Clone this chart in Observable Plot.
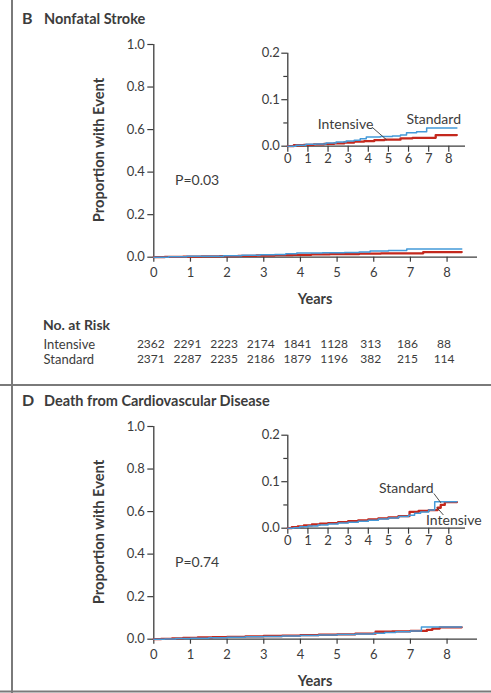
<!DOCTYPE html>
<html>
<head>
<meta charset="utf-8">
<script src="https://cdn.jsdelivr.net/npm/d3@7"></script>
<script src="https://cdn.jsdelivr.net/npm/@observablehq/plot@0.6"></script>
<style>
  body { margin: 0; background: #fff; }
  #fig { position: relative; width: 491px; height: 693px; overflow: hidden; background: #fff; }
  #fig svg { position: absolute; left: 0; }
</style>
</head>
<body>
<div id="fig"></div>
<script>
// ---- data ---------------------------------------------------------------
const years = [0, 1, 2, 3, 4, 5, 6, 7, 8];
const mainTicks = [0, 0.2, 0.4, 0.6, 0.8, 1.0];
const insetTicks = [0, 0.1, 0.2];
const insetMinorTicks = [0.05, 0.15];

const riskGroups = ["Intensive", "Standard"];
const riskIntensive = [2362, 2291, 2223, 2174, 1841, 1128, 313, 186, 88];
const riskStandard  = [2371, 2287, 2235, 2186, 1879, 1196, 382, 215, 114];

// Nonfatal stroke, cumulative proportion (Kaplan-Meier steps)
const strokeIntensiveT = [0, 0.3, 0.8, 1.3, 1.8, 2.3, 2.8, 3.3, 3.8, 4.3, 4.8, 5.6, 6.2, 7.35, 8.4];
const strokeIntensiveP = [0, 0.002, 0.003, 0.004, 0.005, 0.006, 0.008, 0.010, 0.011, 0.013, 0.014, 0.017, 0.018, 0.024, 0.024];
const strokeStandardT  = [0, 0.4, 0.9, 1.4, 1.9, 2.4, 2.9, 3.3, 3.6, 3.9, 4.6, 5.2, 5.6, 5.9, 6.4, 6.9, 8.4];
const strokeStandardP  = [0, 0.002, 0.004, 0.005, 0.007, 0.009, 0.011, 0.013, 0.016, 0.020, 0.021, 0.022, 0.024, 0.029, 0.031, 0.039, 0.039];

// Death from cardiovascular disease
const cvdIntensiveT = [0, 0.2, 0.5, 0.8, 1.2, 1.6, 2.0, 2.5, 3.0, 3.5, 4.0, 4.5, 5.0, 5.5, 6.05, 6.5, 7.0, 7.45, 7.6, 7.8, 8.4];
const cvdIntensiveP = [0, 0.002, 0.004, 0.006, 0.008, 0.010, 0.011, 0.013, 0.015, 0.017, 0.019, 0.021, 0.023, 0.026, 0.035, 0.037, 0.039, 0.044, 0.050, 0.056, 0.056];
const cvdStandardT  = [0, 0.3, 0.6, 1.0, 1.5, 2.0, 2.5, 3.0, 3.5, 4.0, 4.5, 5.0, 5.5, 6.0, 6.3, 6.6, 7.0, 7.3, 8.4];
const cvdStandardP  = [0, 0.001, 0.003, 0.005, 0.007, 0.009, 0.011, 0.013, 0.015, 0.017, 0.020, 0.022, 0.025, 0.028, 0.032, 0.035, 0.039, 0.057, 0.057];

// ---- styling --------------------------------------------------------------
const W = 491;
const xMax = 8.83;
const ink = "#3c3c3c";
const blue = "#449ad9";
const red = "#c4281d";
const font = "Lato, 'Open Sans', sans-serif";
const tickFont = 13;
const fig = document.getElementById("fig");

const toRows = (t, p) => t.map((d, i) => ({t: d, p: p[i]}));

function curveMarks(intT, intP, stdT, stdP) {
  return [
    Plot.line(toRows(intT, intP), {x: "t", y: "p", curve: "step-after", stroke: red, strokeWidth: 2.3}),
    Plot.line(toRows(stdT, stdP), {x: "t", y: "p", curve: "step-after", stroke: blue, strokeWidth: 1.5})
  ];
}

function place(svg, top) {
  svg.style.top = top + "px";
  fig.appendChild(svg);
}

function mainPanel(top, curves) {
  const h = 280;
  const chart = Plot.plot({
    width: W, height: h,
    marginLeft: 153.3, marginRight: W - 477, marginTop: 44, marginBottom: h - 256.7,
    x: {domain: [0, xMax]},
    y: {domain: [0, 1]},
    style: {fontFamily: font, fontSize: tickFont + "px", color: ink, background: "transparent", overflow: "visible"},
    marks: [
      Plot.ruleY([0], {stroke: ink, strokeWidth: 1.3}),
      Plot.ruleX([0], {stroke: ink, strokeWidth: 1.3}),
      Plot.axisY({ticks: mainTicks, tickFormat: d3.format(".1f"), tickSize: 6, tickPadding: 3, label: null, strokeWidth: 1.2}),
      Plot.axisX({ticks: years, tickFormat: d3.format("d"), tickSize: 5, tickPadding: 6, label: null, strokeWidth: 1.2}),
      ...curves
    ]
  });
  place(chart, top);
}

function insetPanel(top, curves, notes, leaders) {
  const h = 165;
  const chart = Plot.plot({
    width: W, height: h,
    marginLeft: 287.3, marginRight: W - 465, marginTop: 52.7, marginBottom: h - 145.7,
    x: {domain: [0, xMax]},
    y: {domain: [0, 0.2]},
    style: {fontFamily: font, fontSize: tickFont + "px", color: ink, background: "transparent", overflow: "visible"},
    marks: [
      Plot.ruleY([0], {stroke: ink, strokeWidth: 1.3}),
      Plot.ruleX([0], {stroke: ink, strokeWidth: 1.3}),
      Plot.axisY({ticks: insetTicks, tickFormat: d3.format(".1f"), tickSize: 6, tickPadding: 2, label: null, strokeWidth: 1.2}),
      Plot.axisY({ticks: insetMinorTicks, tickFormat: () => "", tickSize: 4, label: null, strokeWidth: 1.2}),
      Plot.axisX({ticks: years, tickFormat: d3.format("d"), tickSize: 6, tickPadding: 1.5, label: null, strokeWidth: 1.2}),
      ...curves,
      Plot.line(leaders, {x: "t", y: "p", z: "id", stroke: ink, strokeWidth: 0.9}),
      Plot.text(notes, {x: "t", y: "p", text: "label", fill: ink, fontSize: 14})
    ]
  });
  place(chart, top);
}

function riskTable(top) {
  const h = 50;
  const rows = [];
  years.forEach((y, i) => {
    rows.push({year: y, group: riskGroups[0], n: riskIntensive[i]});
    rows.push({year: y, group: riskGroups[1], n: riskStandard[i]});
  });
  const chart = Plot.plot({
    width: W, height: h,
    marginLeft: 153.3, marginRight: W - 477, marginTop: 23.5, marginBottom: h - 39.3,
    x: {domain: [0, xMax], axis: null},
    y: {domain: riskGroups, type: "point", padding: 0, axis: null},
    style: {fontFamily: font, fontSize: "13px", color: ink, background: "transparent", overflow: "visible"},
    marks: [
      Plot.text(riskGroups, {y: d => d, text: d => d, frameAnchor: "left", textAnchor: "start", dx: 43 - 153.3, fill: ink, fontSize: 13}),
      Plot.text(rows, {x: "year", y: "group", text: d => String(d.n), textAnchor: "middle", dx: -3, fill: ink, fontSize: 12})
    ]
  });
  place(chart, top);
}

// ---- static labels & frame ----------------------------------------------
const over = d3.create("svg").attr("width", W).attr("height", 693)
  .style("top", "0px").style("font-family", font).style("fill", ink);

function panelText(oy, letter, title, pval) {
  over.append("text").attr("x", 22).attr("y", 24 + oy).attr("font-weight", 700).attr("font-size", 16).text(letter);
  over.append("text").attr("x", 44).attr("y", 24 + oy).attr("font-weight", 700).attr("font-size", 14.5).text(title);
  over.append("text").attr("transform", `translate(104,${150 + oy}) rotate(-90)`).attr("text-anchor", "middle")
    .attr("font-weight", 700).attr("font-size", 14.7).text("Proportion with Event");
  over.append("text").attr("x", 315).attr("y", 304 + oy).attr("text-anchor", "middle")
    .attr("font-weight", 700).attr("font-size", 14.5).text("Years");
  over.append("text").attr("x", 175).attr("y", 185 + oy).attr("font-size", 14).text(pval);
}

// Panel B: nonfatal stroke
mainPanel(0, curveMarks(strokeIntensiveT, strokeIntensiveP, strokeStandardT, strokeStandardP));
insetPanel(0,
  curveMarks(strokeIntensiveT, strokeIntensiveP, strokeStandardT, strokeStandardP),
  [{t: 2.87, p: 0.0458, label: "Intensive"}, {t: 7.25, p: 0.0565, label: "Standard"}],
  [{id: "i", t: 4.21, p: 0.040}, {id: "i", t: 4.91, p: 0.0137}]
);
riskTable(320);
panelText(0, "B", "Nonfatal Stroke", "P=0.03");
over.append("text").attr("x", 43).attr("y", 330).attr("font-weight", 700).attr("font-size", 14).text("No. at Risk");

// Panel D: death from cardiovascular disease
const oyD = 382;
mainPanel(oyD, curveMarks(cvdIntensiveT, cvdIntensiveP, cvdStandardT, cvdStandardP));
insetPanel(oyD,
  curveMarks(cvdIntensiveT, cvdIntensiveP, cvdStandardT, cvdStandardP),
  [{t: 5.89, p: 0.0844, label: "Standard"}, {t: 8.25, p: 0.0165, label: "Intensive"}],
  [{id: "s", t: 7.27, p: 0.074}, {id: "s", t: 7.6, p: 0.055},
   {id: "n", t: 7.42, p: 0.044}, {id: "n", t: 7.72, p: 0.029}]
);
panelText(oyD, "D", "Death from Cardiovascular Disease", "P=0.74");

// figure frame
over.append("rect").attr("x", 11).attr("y", 0).attr("width", 2).attr("height", 693).attr("fill", "#7a7a7a");
over.append("rect").attr("x", 0).attr("y", 384).attr("width", W).attr("height", 2).attr("fill", "#7a7a7a");
over.append("rect").attr("x", 0).attr("y", 690.5).attr("width", W).attr("height", 2).attr("fill", "#7a7a7a");

fig.appendChild(over.node());
</script>
</body>
</html>
